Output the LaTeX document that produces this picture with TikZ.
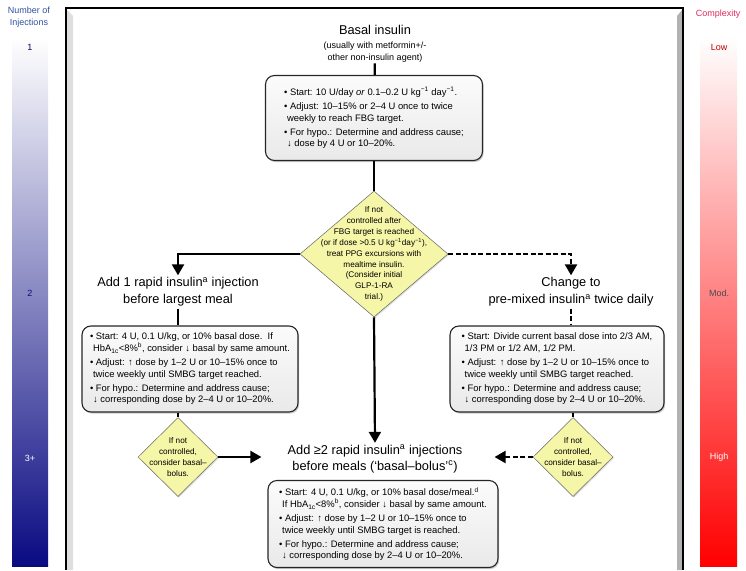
\documentclass[tikz,border=0pt]{standalone}
\usepackage{fontspec}
\setmainfont{Liberation Sans}
\usetikzlibrary{shapes.geometric}
\usetikzlibrary{arrows.meta}
\usetikzlibrary{shadows}
\definecolor{diayellow}{RGB}{246,246,168}
\definecolor{injblue}{RGB}{10,10,130}
\definecolor{injtext}{RGB}{50,80,160}
\definecolor{cxred}{RGB}{225,40,90}
\tikzset{
    stepcard/.style = {rectangle, rounded corners=9pt, line width=1.1pt, draw=black!85, top color=gray!3, bottom color=gray!17, drop shadow={shadow xshift=1.2pt, shadow yshift=-1.6pt, fill=black!40}, align=left, inner sep=0pt, font=\fontsize{9.4}{11.8}\selectfont},
    steptitle/.style = {align=center, inner sep=2pt, font=\fontsize{12.8}{17}\selectfont},
    bigdia/.style = {diamond, draw=black!60, line width=0.5pt, fill=diayellow, inner sep=0pt, minimum width=148pt, minimum height=126pt, drop shadow={shadow xshift=1pt, shadow yshift=-1.2pt, fill=black!25}},
    smalldia/.style = {bigdia, minimum width=80pt, minimum height=79pt},
    diatext/.style = {align=center, inner sep=0pt, font=\fontsize{8.2}{10.9}\selectfont},
    barlabel/.style = {align=center, inner sep=0pt, font=\fontsize{9}{11.5}\selectfont},
    flow/.style = {line width=2.2pt, black},
    flowarrow/.style = {flow, -{Triangle[length=11pt,width=12pt]}},
    dashflow/.style = {flow, dash pattern=on 5pt off 2.5pt},
    dasharrow/.style = {dashflow, -{Triangle[length=11pt,width=12pt]}},
}
\newcommand{\cont}{\hspace*{3pt}}

\begin{document}
\begin{tikzpicture}[x=1pt,y=-1pt]
\path[use as bounding box] (0,0) rectangle (746,570);
%
% side scales
\shade[top color=white, bottom color=injblue] (12,38) rectangle (48,566);
\shade[top color=white, bottom color=red] (700,37) rectangle (737,566);
\node[barlabel, text=injtext] (injhead) at (29,17) {Number of\\Injections};
\node[barlabel, text=injblue!70!black] (inj1) at (30,47) {1};
\node[barlabel, text=injblue] (inj2) at (30,293) {2};
\node[barlabel, text=white] (inj3) at (30,458) {3+};
\node[barlabel, text=cxred] (cxhead) at (718,14) {Complexity};
\node[barlabel, text=red!75!black] (cxlow) at (719,47) {Low};
\node[barlabel, text=black!70] (cxmod) at (719,293) {Mod.};
\node[barlabel, text=white] (cxhigh) at (719,457) {High};
%
% frame
\fill[gray!25] (67,10) -- (73,16) -- (73,570) -- (67,570) -- cycle;
\fill[gray!60] (682,10) -- (677,16) -- (677,570) -- (682,570) -- cycle;
\draw[line width=1.5pt] (66,570) -- (66,8) -- (683,8) -- (683,570);
%
% basal
\node[steptitle] (basaltitle) at (375,30) {Basal insulin};
\node[align=center, inner sep=1pt, font=\fontsize{9}{12}\selectfont] (basalsub) at (375,52) {(usually with metformin+/-\\other non-insulin agent)};
\node[stepcard, minimum width=217pt, minimum height=85pt] (basalbox) at (374,118) {%
\textbullet\ Start: 10 U/day \textit{or} 0.1–0.2 U kg\textsuperscript{−1} day\textsuperscript{−1}.\\[2pt]
\textbullet\ Adjust: 10–15\% or 2–4 U once to twice\\
\cont weekly to reach FBG target.\\[2pt]
\textbullet\ For hypo.: Determine and address cause;\\
\cont ↓ dose by 4 U or 10–20\%.};
%
\node[bigdia] (ctrl) at (374,254) {};
\node[diatext] (ctrltext) at (ctrl) {If not\\controlled after\\FBG target is reached\\(or if dose >0.5 U kg\textsuperscript{−1}day\textsuperscript{−1}),\\treat PPG excursions with\\mealtime insulin.\\(Consider initial\\GLP-1-RA\\trial.)};
%
% left branch
\node[steptitle] (rapidtitle) at (178,292) {Add 1 rapid insulin\textsuperscript{a} injection\\before largest meal};
\node[stepcard, minimum width=216pt, minimum height=86pt] (rapidbox) at (190,369) {%
\textbullet\ Start: 4 U, 0.1 U/kg, or 10\% basal dose.\ \ If\\
\cont HbA\textsubscript{1c}<8\%\textsuperscript{b}, consider ↓ basal by same amount.\\[2pt]
\textbullet\ Adjust: ↑ dose by 1–2 U or 10–15\% once to\\
\cont twice weekly until SMBG target reached.\\[2pt]
\textbullet\ For hypo.: Determine and address cause;\\
\cont ↓ corresponding dose by 2–4 U or 10–20\%.};
\node[smalldia] (lctrl) at (178,457) {};
\node[diatext] (lctrltext) at (lctrl) {If not\\controlled,\\consider basal–\\bolus.};
%
% right branch
\node[steptitle] (mixtitle) at (571,292) {Change to\\pre-mixed insulin\textsuperscript{a} twice daily};
\node[stepcard, minimum width=214pt, minimum height=86pt] (mixbox) at (557,369) {%
\textbullet\ Start: Divide current basal dose into 2/3 AM,\\
\cont 1/3 PM or 1/2 AM, 1/2 PM.\\[2pt]
\textbullet\ Adjust: ↑ dose by 1–2 U or 10–15\% once to\\
\cont twice weekly until SMBG target reached.\\[2pt]
\textbullet\ For hypo.: Determine and address cause;\\
\cont ↓ corresponding dose by 2–4 U or 10–20\%.};
\node[smalldia] (rctrl) at (573,457) {};
\node[diatext] (rctrltext) at (rctrl) {If not\\controlled,\\consider basal–\\bolus.};
%
% basal-bolus
\node[steptitle, font=\fontsize{12.8}{16}\selectfont] (bolustitle) at (375,459) {Add ≥2 rapid insulin\textsuperscript{a} injections\\before meals (‘basal–bolus’\textsuperscript{c})};
\node[stepcard, minimum width=230pt, minimum height=87pt] (bolusbox) at (383,524) {%
\textbullet\ Start: 4 U, 0.1 U/kg, or 10\% basal dose/meal.\textsuperscript{d}\\
\cont If HbA\textsubscript{1c}<8\%\textsuperscript{b}, consider ↓ basal by same amount.\\[2pt]
\textbullet\ Adjust: ↑ dose by 1–2 U or 10–15\% once to\\
\cont twice weekly until SMBG target is reached.\\[2pt]
\textbullet\ For hypo.: Determine and address cause;\\
\cont ↓ corresponding dose by 2–4 U or 10–20\%.};
%
\draw[flow] (basalsub) -- (basalbox);
\draw[flow] (basalbox) -- (ctrl);
\draw[flowarrow] (ctrl.west) -| (rapidtitle.north);
\draw[flow] (rapidtitle.south) -- (rapidtitle.south |- rapidbox.north);
\draw[flow] (lctrl.north |- rapidbox.south) -- (lctrl.north);
\draw[flowarrow, shorten >=24pt] (lctrl.east) -- (bolustitle.west |- lctrl.east);
\draw[flowarrow] (ctrl.south) -- (bolustitle.north);
\draw[dasharrow] (ctrl.east) -| (mixtitle.north);
\draw[dashflow] (mixtitle.south) -- (mixtitle.south |- mixbox.north);
\draw[dashflow] (rctrl.north |- mixbox.south) -- (rctrl.north);
\draw[dasharrow, shorten >=30pt] (rctrl.west) -- (bolustitle.east |- rctrl.west);

\end{tikzpicture}
\end{document}
